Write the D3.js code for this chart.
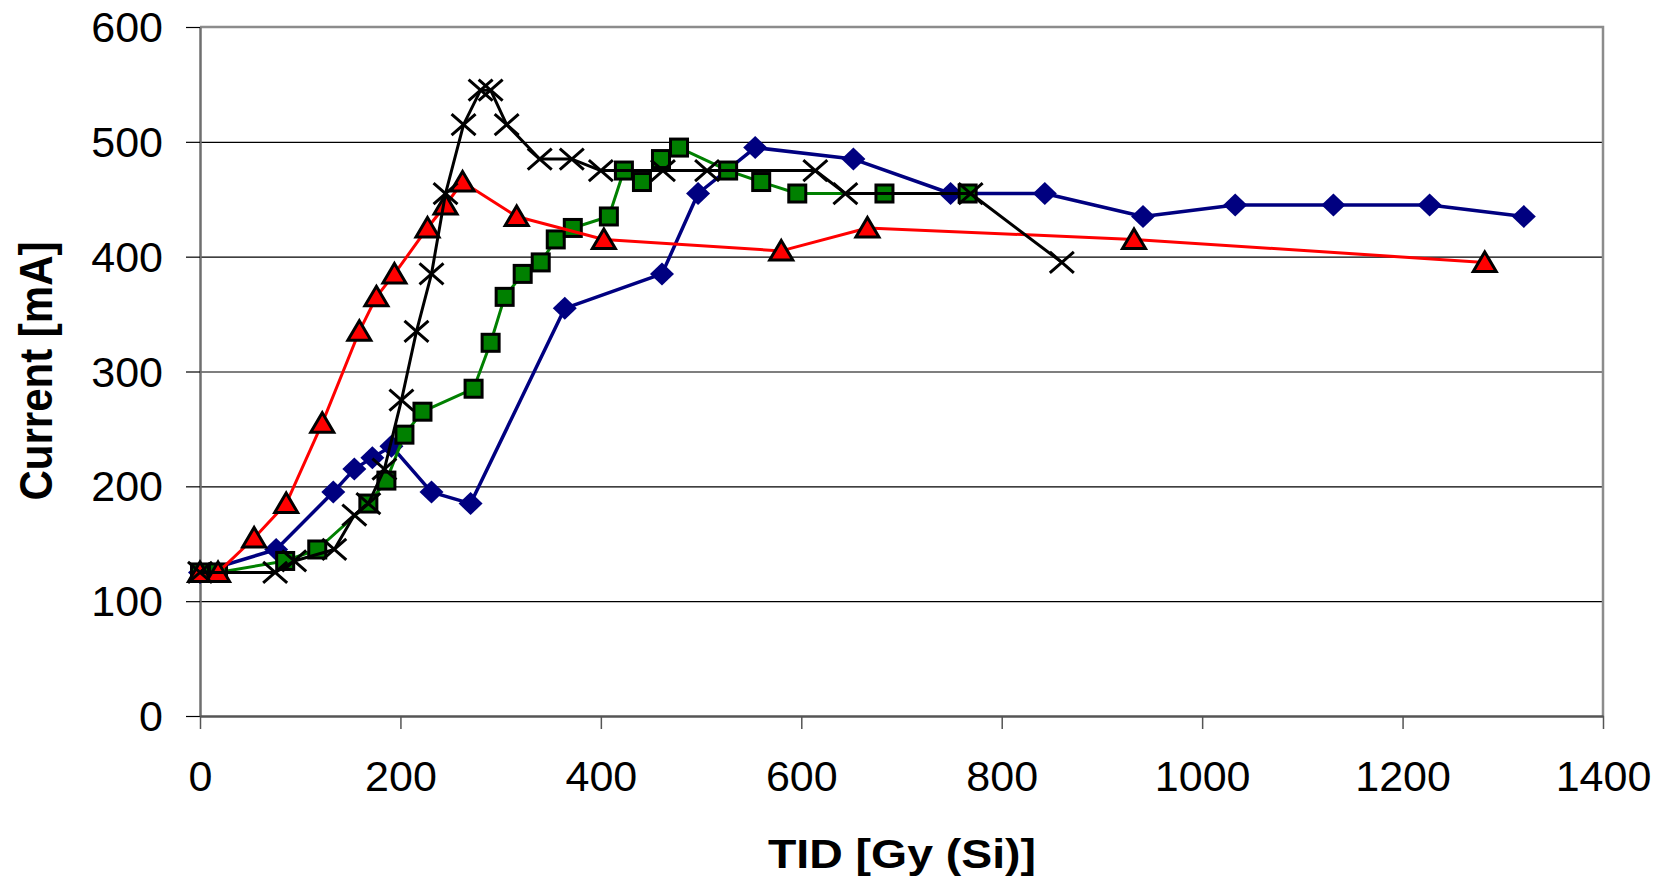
<!DOCTYPE html>
<html>
<head>
<meta charset="utf-8">
<script src="https://cdn.jsdelivr.net/npm/d3@7"></script>
<style>
  html, body { margin: 0; padding: 0; background: #fff; }
  svg { display: block; font-family: "Liberation Sans", Arial, sans-serif; }
  .tick text { font-size: 43px; fill: #000; }
  .axis-label { font-weight: bold; fill: #000; }
</style>
</head>
<body>
<script>
//series data (TID in Gy(Si), current in mA)
const blueX = [0, 76, 133, 154, 172, 191, 231, 270, 364, 461, 497, 554, 652, 749, 843, 941, 1033, 1131, 1227, 1321]
const blueY = [125, 145, 195, 215, 225, 235, 195, 185, 355, 385, 455, 495, 485, 455, 455, 435, 445, 445, 445, 435]

const greenX = [0, 18, 85, 117, 168, 186, 204, 222, 273, 290, 304, 322, 340, 355, 372, 408, 423, 441, 460, 478, 527, 560, 596, 683, 766]
const greenY = [125, 125, 135, 145, 185, 205, 245, 265, 285, 325, 365, 385, 395, 415, 425, 435, 475, 465, 485, 495, 475, 465, 455, 455, 455]

const redX = [0, 18, 54, 86, 122, 159, 176, 194, 227, 245, 262, 316, 403, 580, 666, 932, 1282]
const redY = [125, 125, 155, 185, 255, 335, 365, 385, 425, 445, 465, 435, 415, 405, 425, 415, 395]

const blackX = [0, 75, 94, 134, 154, 168, 184, 201, 216, 231, 245, 263, 280, 290, 306, 339, 371, 400, 462, 506, 614, 644, 769, 860]
const blackY = [125, 125, 135, 145, 175, 185, 215, 275, 335, 385, 455, 515, 545, 545, 515, 485, 485, 475, 475, 475, 475, 455, 455, 395]

//tick values
const xTicks = [0, 200, 400, 600, 800, 1000, 1200, 1400]
const yTicks = [0, 100, 200, 300, 400, 500, 600]

const xAxisLabel = 'TID [Gy (Si)]'
const yAxisLabel = 'Current [mA]'

const width = 1667
const height = 879

const margin = { top: 27, bottom: 163, left: 200, right: 64 }
const innerWidth = width - margin.left - margin.right
const innerHeight = height - margin.top - margin.bottom

const svg = d3.select('body').append('svg')
  .attr('width', width)
  .attr('height', height)

const g = svg.append('g')
  .attr('transform', `translate(${margin.left},${margin.top})`)

//=================SCALES===================
const xScale = d3.scaleLinear().domain([0, 1400]).range([0, innerWidth])
const yScale = d3.scaleLinear().domain([0, 600]).range([innerHeight, 0])

//================= GRID =====================
const grid = g.append('g')
  .call(d3.axisLeft(yScale).tickValues(yTicks.slice(1, -1)).tickSize(-innerWidth).tickFormat(''))
grid.select('.domain').remove()
grid.selectAll('line').attr('stroke', '#000').attr('stroke-width', 1.2)

//plot frame (top and right edges grey)
g.append('path')
  .attr('d', `M0,0H${innerWidth}V${innerHeight}`)
  .attr('fill', 'none')
  .attr('stroke', '#8c8c8c')
  .attr('stroke-width', 2.5)

//=================== AXES ==================
const yAxisGroup = g.append('g')
  .call(d3.axisLeft(yScale).tickValues(yTicks).tickFormat(d3.format('d'))
    .tickSize(14).tickPadding(23).tickSizeOuter(0))
yAxisGroup.select('.domain').attr('stroke', '#6e6e6e').attr('stroke-width', 2.5)
yAxisGroup.selectAll('.tick line').attr('stroke', '#000').attr('stroke-width', 1.2)
yAxisGroup.selectAll('.tick text').attr('dy', '0.34em')

const xAxisGroup = g.append('g')
  .attr('transform', `translate(0,${innerHeight})`)
  .call(d3.axisBottom(xScale).tickValues(xTicks).tickFormat(d3.format('d'))
    .tickSize(13).tickPadding(31).tickSizeOuter(0))
xAxisGroup.select('.domain').attr('stroke', '#555').attr('stroke-width', 2.5)
xAxisGroup.selectAll('.tick line').attr('stroke', '#555').attr('stroke-width', 1.5)

svg.selectAll('.tick text').attr('font-family', null).attr('font-size', null)

//axis titles
svg.append('text')
  .attr('class', 'axis-label')
  .attr('x', 902)
  .attr('y', 868)
  .attr('text-anchor', 'middle')
  .attr('font-size', 41)
  .attr('textLength', 268)
  .attr('lengthAdjust', 'spacingAndGlyphs')
  .text(xAxisLabel)

svg.append('text')
  .attr('class', 'axis-label')
  .attr('transform', 'rotate(-90)')
  .attr('x', -371)
  .attr('y', 52)
  .attr('text-anchor', 'middle')
  .attr('font-size', 46)
  .attr('textLength', 259)
  .attr('lengthAdjust', 'spacingAndGlyphs')
  .text(yAxisLabel)

//=================== DATA ==================
const toPoints = (xs, ys) => xs.map((x, i) => ({ x, y: ys[i] }))

const drawLine = (pts, color, w) => {
  g.append('path')
    .datum(pts)
    .attr('fill', 'none')
    .attr('stroke', color)
    .attr('stroke-width', w)
    .attr('stroke-linejoin', 'round')
    .attr('d', d3.line().x(d => xScale(d.x)).y(d => yScale(d.y)))
}

//blue diamonds
const bluePts = toPoints(blueX, blueY)
drawLine(bluePts, '#000080', 3.5)
g.selectAll('.diamond').data(bluePts).enter().append('path')
  .attr('class', 'diamond')
  .attr('transform', d => `translate(${xScale(d.x)},${yScale(d.y)})`)
  .attr('d', 'M0,-11.5L12,0L0,11.5L-12,0Z')
  .attr('fill', '#000080')

//green squares
const greenPts = toPoints(greenX, greenY)
drawLine(greenPts, '#008000', 3)
g.selectAll('.square').data(greenPts).enter().append('rect')
  .attr('class', 'square')
  .attr('x', d => xScale(d.x) - 8.5)
  .attr('y', d => yScale(d.y) - 8.5)
  .attr('width', 17)
  .attr('height', 17)
  .attr('fill', '#008000')
  .attr('stroke', '#000')
  .attr('stroke-width', 3)

//red triangles
const redPts = toPoints(redX, redY)
drawLine(redPts, '#ff0000', 3)
g.selectAll('.triangle').data(redPts).enter().append('path')
  .attr('class', 'triangle')
  .attr('transform', d => `translate(${xScale(d.x)},${yScale(d.y)})`)
  .attr('d', 'M0,-10.5L11.5,9L-11.5,9Z')
  .attr('fill', '#ff0000')
  .attr('stroke', '#000')
  .attr('stroke-width', 3)
  .attr('stroke-linejoin', 'miter')

//black crosses
const blackPts = toPoints(blackX, blackY)
drawLine(blackPts, '#000', 3)
g.selectAll('.cross').data(blackPts).enter().append('path')
  .attr('class', 'cross')
  .attr('transform', d => `translate(${xScale(d.x)},${yScale(d.y)})`)
  .attr('d', 'M-12,-10.5L12,10.5M-12,10.5L12,-10.5')
  .attr('stroke', '#000')
  .attr('stroke-width', 3)
</script>
</body>
</html>
